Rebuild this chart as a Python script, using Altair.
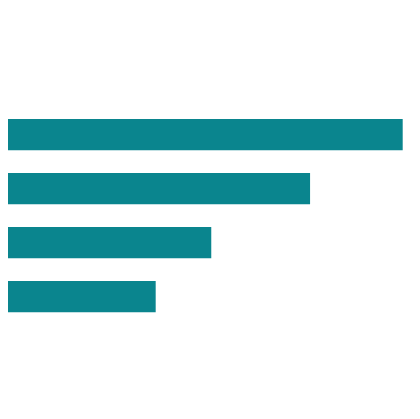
import altair as alt
import pandas as pd

categories = ["A", "B", "C", "D"]
values = [26, 20, 13.6, 10]

df = pd.DataFrame({"category": categories, "value": values})

chart = (
    alt.Chart(df)
    .mark_bar(color="#0a858e")
    .encode(
        x=alt.X("value:Q", axis=None,
                scale=alt.Scale(domain=[0, 26], range=[-6.7, 394.7], nice=False)),
        y=alt.Y("category:N", axis=None, sort=categories,
                scale=alt.Scale(paddingInner=0.42, paddingOuter=0.21)),
    )
    .properties(
        width=404,
        height=216,
        padding={"top": 99.66, "left": 0, "right": 0, "bottom": 0},
        autosize=alt.AutoSizeParams(type="none"),
        background="white",
    )
    .configure_view(stroke=None)
)

chart.save("out.html", embed_options={"renderer": "svg", "actions": False})
